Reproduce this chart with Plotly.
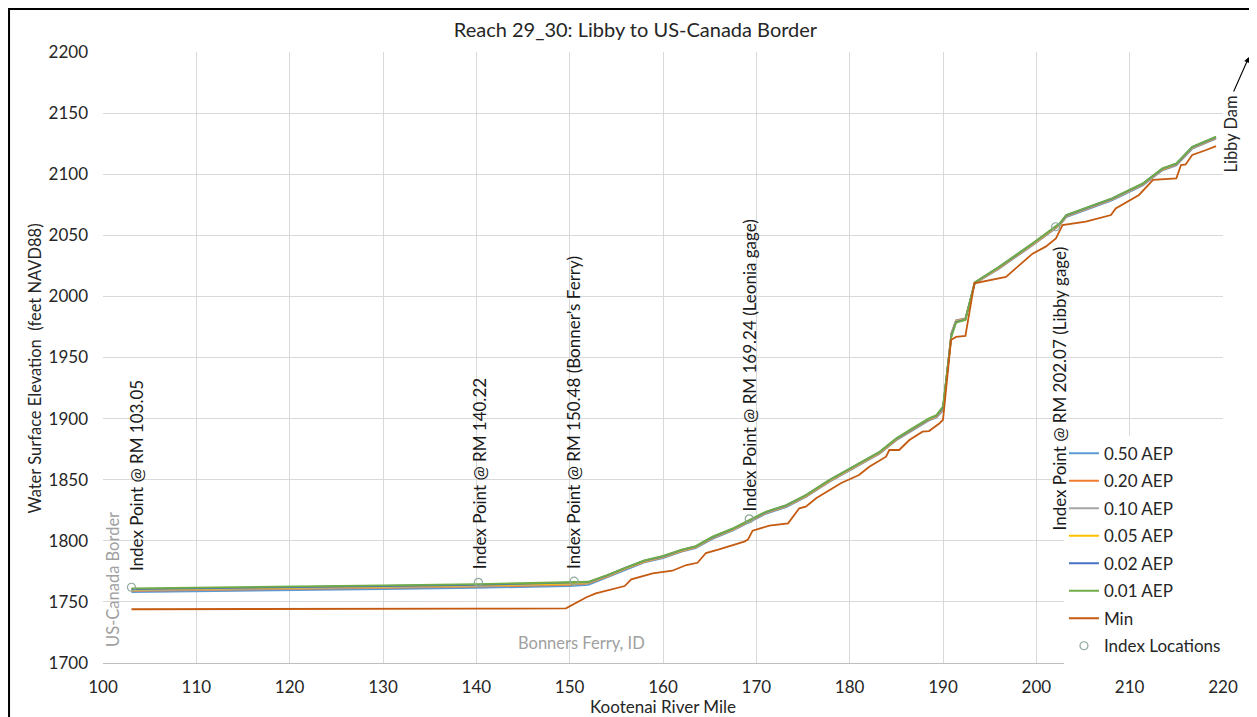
import plotly.graph_objects as go

# ---------------- data ----------------
river_mile = [103.05, 110, 120, 130, 140, 150, 152, 154, 156, 158, 160, 162, 163.5, 165.3,
              167.5, 169.6, 171, 173.2, 175.3, 177.8, 179.1, 181, 183.2, 185, 186.7, 188.5,
              189.3, 190, 190.9, 191.4, 192.4, 193.4, 196, 199.6, 202.5, 203.2, 208.1, 211.4,
              213.5, 215, 216.7, 219.25]

aep_050 = [1758, 1758.5, 1759.5, 1760.5, 1761.5, 1763, 1764, 1770, 1776.5, 1782.3, 1785.9, 1791.1,
           1794, 1801.6, 1808.5, 1816.6, 1822.1, 1827.6, 1835.8, 1848.1, 1853.5, 1861.7, 1871.2,
           1882.2, 1890.3, 1898.5, 1901, 1906.5, 1970, 1980.5, 1982, 2010.5, 2022.6, 2041.8,
           2058.1, 2064.9, 2078.6, 2090.8, 2103.1, 2107.2, 2120.8, 2129]
aep_020 = [1759, 1759.5, 1760.5, 1761.5, 1762.5, 1764, 1765.2, 1770.6, 1777.1, 1782.8, 1786.4, 1791.6,
           1794.5, 1802.1, 1809, 1817.1, 1822.6, 1828.1, 1836.3, 1848.6, 1854, 1862.2, 1871.7,
           1882.7, 1890.8, 1899, 1901.6, 1907.5, 1969.5, 1980.3, 1981.8, 2010.7, 2023.1, 2042.3,
           2058.6, 2065.4, 2079.1, 2091.3, 2103.6, 2107.7, 2121.3, 2129.5]
aep_010 = [1759.5, 1760, 1761, 1762, 1763, 1764.5, 1765.6, 1771, 1777.4, 1783.1, 1786.7, 1791.9,
           1794.8, 1802.4, 1809.3, 1817.4, 1822.9, 1828.4, 1836.6, 1848.9, 1854.3, 1862.5, 1872,
           1883, 1891.1, 1899.3, 1901.9, 1908, 1969, 1980, 1981.5, 2010.9, 2023.4, 2042.6,
           2058.9, 2065.7, 2079.4, 2091.6, 2103.9, 2108, 2121.6, 2129.8]
aep_005 = [1760, 1760.5, 1761.5, 1762.5, 1763.5, 1765, 1766, 1771.3, 1777.7, 1783.4, 1787, 1792.2,
           1795.1, 1802.7, 1809.6, 1817.7, 1823.2, 1828.7, 1836.9, 1849.2, 1854.6, 1862.8, 1872.3,
           1883.3, 1891.4, 1899.6, 1902.2, 1908.5, 1968.5, 1979.5, 1981.2, 2011.1, 2023.7, 2042.9,
           2059.2, 2066, 2079.7, 2091.9, 2104.2, 2108.3, 2121.9, 2130.1]
aep_002 = [1760.5, 1761, 1762, 1763, 1764, 1765.5, 1766.2, 1771.6, 1778, 1783.7, 1787.3, 1792.5,
           1795.4, 1803, 1809.9, 1818, 1823.5, 1829, 1837.2, 1849.5, 1854.9, 1863.1, 1872.6,
           1883.6, 1891.7, 1899.9, 1902.5, 1909, 1968, 1979, 1981, 2011.3, 2024, 2043.2,
           2059.5, 2066.3, 2080, 2092.2, 2104.5, 2108.6, 2122.2, 2130.4]
aep_001 = [1761, 1761.5, 1762.5, 1763.5, 1764.5, 1766, 1766.5, 1772, 1778.3, 1784, 1787.6, 1792.8,
           1795.7, 1803.4, 1810.2, 1818.4, 1823.8, 1829.3, 1837.5, 1849.8, 1855.2, 1863.4, 1872.9,
           1883.9, 1892, 1900.2, 1902.9, 1910, 1967, 1978.5, 1980.7, 2011.5, 2024.3, 2043.5,
           2059.8, 2066.6, 2080.3, 2092.5, 2104.8, 2108.9, 2122.5, 2130.7]

min_mile = [103.05, 120, 130, 140, 149.6, 151.8, 152.8, 155.9, 156.6, 158.9, 161.0, 162.5, 163.7,
            164.6, 166.0, 168.7, 169.1, 169.6, 171.4, 173.4, 174.6, 175.3, 176.4, 177.8, 179.1,
            181.0, 182.1, 183.9, 184.25, 185.3, 186.4, 187.8, 188.5, 189.6, 190.0, 190.86, 191.4,
            192.4, 193.36, 196.75, 199.6, 201.0, 202.1, 202.8, 205.3, 208.0, 208.5, 211.0, 212.5,
            215.0, 215.5, 216.0, 216.7, 218.2, 219.25]
min_wse = [1744, 1744, 1744.3, 1744.5, 1744.7, 1753.8, 1757, 1763, 1768.5, 1773.4, 1775.5, 1780.2,
           1782, 1790, 1793, 1799.3, 1801, 1808.3, 1812.4, 1814.3, 1826.6, 1828, 1834.8, 1841.6,
           1847.3, 1853.8, 1860.6, 1868.8, 1874.3, 1874.3, 1882.5, 1889.3, 1889.8, 1896, 1899,
           1964.3, 1966.8, 1967.6, 2010.7, 2016, 2035, 2040.7, 2047.5, 2058.4, 2061.1, 2066.6,
           2072, 2083, 2095.3, 2096.6, 2107.5, 2108, 2115.7, 2119.8, 2123]

index_mile = [103.05, 140.22, 150.48, 169.24, 202.07]
index_wse = [1762, 1766, 1767, 1818, 2057]
index_labels = ["Index Point @ RM 103.05", "Index Point @ RM 140.22",
                "Index Point @ RM 150.48 (Bonner\u2019s Ferry)",
                "Index Point @ RM 169.24 (Leonia gage)",
                "Index Point @ RM 202.07 (Libby gage)"]
label_bottom = [1776, 1777.5, 1777.5, 1825, 1809]
label_xshift = [5, 1, 0, 0, 4]

series_names = ["0.50 AEP", "0.20 AEP", "0.10 AEP", "0.05 AEP", "0.02 AEP", "0.01 AEP"]
series_values = [aep_050, aep_020, aep_010, aep_005, aep_002, aep_001]
series_colors = ["#5B9BD5", "#ED7D31", "#A5A5A5", "#FFC000", "#4472C4", "#70AD47"]

FONT = "Lato, 'Open Sans', sans-serif"

fig = go.Figure()
for i, (name, vals, col) in enumerate(zip(series_names, series_values, series_colors)):
    fig.add_trace(go.Scatter(x=river_mile, y=vals, name=name, mode="lines",
                             line=dict(color=col, width=1.8), legendgroup=f"g{i}"))
fig.add_trace(go.Scatter(x=min_mile, y=min_wse, name="Min", mode="lines",
                         line=dict(color="#C55A11", width=1.8), legendgroup="g6"))
fig.add_trace(go.Scatter(x=index_mile, y=index_wse, name="Index Locations", mode="markers",
                         marker=dict(symbol="circle-open", size=8,
                                     line=dict(color="#8FA89A", width=1.2), color="#8FA89A"),
                         legendgroup="g7"))

annotations = []
for lbl, xm, yb, xs in zip(index_labels, index_mile, label_bottom, label_xshift):
    annotations.append(dict(x=xm, y=yb, xref="x", yref="y", text=lbl, textangle=-90,
                            showarrow=False, xanchor="center", yanchor="bottom", xshift=xs,
                            yshift=-3, font=dict(family=FONT, size=17, color="#1a1a1a")))
annotations.append(dict(x=101.0, y=1713, xref="x", yref="y", text="US-Canada Border",
                        textangle=-90, showarrow=False, xanchor="center", yanchor="bottom",
                        yshift=-2, font=dict(family=FONT, size=16.5, color="#a0a0a0")))
annotations.append(dict(x=151.3, y=1716.4, xref="x", yref="y", text="Bonners Ferry, ID",
                        showarrow=False, xanchor="center", yanchor="middle",
                        font=dict(family=FONT, size=16.5, color="#a0a0a0")))
annotations.append(dict(x=1.0063, y=0.8036, xref="paper", yref="paper", text="Libby Dam",
                        textangle=-90, showarrow=False, xanchor="center", yanchor="bottom",
                        yshift=-3, font=dict(family=FONT, size=16.5, color="#262626")))
annotations.append(dict(x=1.0232, y=0.9918, xref="paper", yref="paper", text="",
                        showarrow=True, ax=-16, ay=36, arrowhead=2, arrowsize=1,
                        arrowwidth=1.1, arrowcolor="#000000", standoff=0, startstandoff=0))
annotations.append(dict(x=-0.0607, y=0.482, xref="paper", yref="paper",
                        text="Water Surface Elevation  (feet NAVD88)", textangle=-90,
                        showarrow=False, xanchor="center", yanchor="middle",
                        font=dict(family=FONT, size=16.5, color="#262626")))

fig.update_layout(
    width=1249, height=709,
    margin=dict(l=95, r=34, t=44, b=54),
    paper_bgcolor="white", plot_bgcolor="white",
    font=dict(family=FONT, size=16, color="#262626"),
    title=dict(text="Reach 29_30: Libby to US-Canada Border", x=0.5024, xref="container",
               y=0.969, yref="container", xanchor="center", yanchor="middle",
               font=dict(family=FONT, size=20, color="#262626")),
    xaxis=dict(range=[100, 220], dtick=10, tick0=100, showgrid=True, gridcolor="#d9d9d9",
               gridwidth=1, zeroline=False, showline=True, linecolor="#bfbfbf", linewidth=1,
               ticks="", ticklabelstandoff=9, automargin=False,
               tickfont=dict(family=FONT, size=17, color="#262626"),
               title=dict(text="Kootenai River Mile", standoff=3,
                          font=dict(family=FONT, size=17, color="#262626"))),
    yaxis=dict(range=[1700, 2200], dtick=50, tick0=1700, showgrid=True, gridcolor="#d9d9d9",
               gridwidth=1, zeroline=False, showline=False, ticks="", ticklabelstandoff=14,
               automargin=False,
               tickfont=dict(family=FONT, size=17, color="#262626")),
    legend=dict(x=0.858, y=0.372, xanchor="left", yanchor="top", bgcolor="white",
                borderwidth=0, traceorder="grouped", tracegroupgap=2.4,
                font=dict(family=FONT, size=17, color="#262626")),
    annotations=annotations,
    shapes=[dict(type="rect", xref="paper", yref="paper", x0=-0.0839, x1=1.0277,
                 y0=-0.12, y1=1.0704, line=dict(color="black", width=2),
                 fillcolor="rgba(0,0,0,0)", layer="above")],
)

fig.write_html("out.html")
